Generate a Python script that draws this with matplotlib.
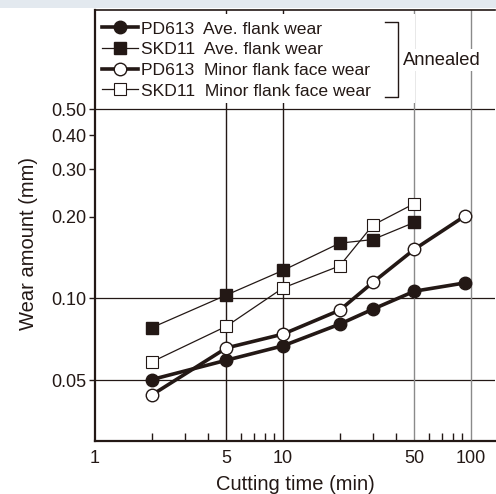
import matplotlib
matplotlib.use("Agg")
import matplotlib.pyplot as plt
from matplotlib.patches import Rectangle
from matplotlib.ticker import FixedLocator, FixedFormatter, NullLocator

# ---- data ----
time_pd_ave = [2, 5, 10, 20, 30, 50, 93]
wear_pd_ave = [0.0502, 0.0592, 0.0669, 0.0804, 0.0913, 0.1064, 0.1142]

time_skd_ave = [2, 5, 10, 20, 30, 50]
wear_skd_ave = [0.078, 0.103, 0.127, 0.160, 0.165, 0.191]

time_pd_minor = [2, 5, 10, 20, 30, 50, 93]
wear_pd_minor = [0.0440, 0.0657, 0.0739, 0.0905, 0.1146, 0.152, 0.2018]

time_skd_minor = [2, 5, 10, 20, 30, 50]
wear_skd_minor = [0.0583, 0.079, 0.1094, 0.1319, 0.1864, 0.2241]

labels = ["PD613  Ave. flank wear", "SKD11  Ave. flank wear",
          "PD613  Minor flank face wear", "SKD11  Minor flank face wear"]
x_ticks = [1, 5, 10, 50, 100]
x_ticklabels = ["1", "5", "10", "50", "100"]
y_ticks = [0.05, 0.10, 0.20, 0.30, 0.40, 0.50]
y_ticklabels = ["0.05", "0.10", "0.20", "0.30", "0.40", "0.50"]
x_minor = [2, 3, 4, 6, 7, 8, 9, 20, 30, 40, 60, 70, 80, 90]

plt.rcParams['font.family'] = ['Liberation Sans', 'DejaVu Sans']
INK = "#231815"

fig = plt.figure(figsize=(4.96, 4.94), dpi=100)
fig.patches.append(Rectangle((0, 0.984), 1, 0.016, transform=fig.transFigure,
                             facecolor="#e3e9ef", edgecolor="none", zorder=0))
ax = fig.add_axes([95/496, 53/494, 400/496, 431/494])
ax.set_xscale("log")
ax.set_yscale("log")
ax.set_xlim(1, 134)
ax.set_ylim(0.0298, 1.16)

# grid lines
for yv in [0.05, 0.10, 0.50]:
    ax.axhline(yv, color=INK, lw=0.9, zorder=1)
for xv, c in [(5, INK), (10, INK), (50, "#8a8a8a"), (100, "#8a8a8a")]:
    ax.axvline(xv, color=c, lw=1.0, zorder=1)

h1, = ax.plot(time_pd_ave, wear_pd_ave, color=INK, lw=2.6, marker="o", ms=9,
              mfc=INK, mec=INK, zorder=5)
h2, = ax.plot(time_skd_ave, wear_skd_ave, color=INK, lw=0.9, marker="s", ms=9,
              mfc=INK, mec=INK, zorder=4)
h3, = ax.plot(time_pd_minor, wear_pd_minor, color=INK, lw=2.6, marker="o", ms=9,
              mfc="white", mec=INK, mew=1.0, zorder=5)
h4, = ax.plot(time_skd_minor, wear_skd_minor, color=INK, lw=0.9, marker="s", ms=9,
              mfc="white", mec=INK, mew=0.8, zorder=4)

# ticks
ax.xaxis.set_major_locator(FixedLocator(x_ticks))
ax.xaxis.set_major_formatter(FixedFormatter(x_ticklabels))
ax.xaxis.set_minor_locator(FixedLocator(x_minor))
ax.xaxis.set_minor_formatter(FixedFormatter([""] * len(x_minor)))
ax.yaxis.set_major_locator(FixedLocator(y_ticks))
ax.yaxis.set_major_formatter(FixedFormatter(y_ticklabels))
ax.yaxis.set_minor_locator(NullLocator())
ax.tick_params(axis="x", which="major", length=0, pad=6.5, labelsize=13, colors=INK)
ax.tick_params(axis="x", which="minor", direction="in", length=6, width=1, color=INK)
ax.tick_params(axis="y", which="major", direction="out", length=4, width=1,
               pad=2, labelsize=13, colors=INK)

for s in ["left", "bottom"]:
    ax.spines[s].set_linewidth(1.6)
    ax.spines[s].set_color(INK)
ax.spines["top"].set_linewidth(1.2)
ax.spines["top"].set_color(INK)
ax.spines["right"].set_visible(False)

ax.set_xlabel("Cutting time (min)", fontsize=14.5, color=INK, labelpad=6)
ax.set_ylabel("Wear amount (mm)", fontsize=14.5, color=INK)
ax.yaxis.set_label_coords(-0.143, 0.458)

# white area behind legend
ax.add_patch(Rectangle((0.005, 0.785), 0.795, 0.205, transform=ax.transAxes,
                       facecolor="white", edgecolor="none", zorder=2))

leg = ax.legend([h1, h2, h3, h4], labels, loc="upper left",
                bbox_to_anchor=(-0.006, 0.995), frameon=False, fontsize=12.6,
                handlelength=2.1, handletextpad=0.17, labelspacing=0.31,
                borderaxespad=0.4, borderpad=0.12)
for t in leg.get_texts():
    t.set_color(INK)
leg.set_zorder(6)

# bracket and "Annealed"
bx = (398 - 95) / 400
by0 = (441 - 97) / 431
by1 = (441 - 21.5) / 431
ax.plot([bx - 0.033, bx, bx, bx - 0.033], [by1, by1, by0, by0],
        transform=ax.transAxes, color=INK, lw=1.0, zorder=7, clip_on=False)
ax.text((442 - 95) / 400, (441 - 60) / 431, "Annealed", transform=ax.transAxes,
        ha="center", va="center", fontsize=13.2, color=INK, zorder=7,
        bbox=dict(facecolor="white", edgecolor="none", pad=1.5))

fig.savefig("out.png", dpi=100)
